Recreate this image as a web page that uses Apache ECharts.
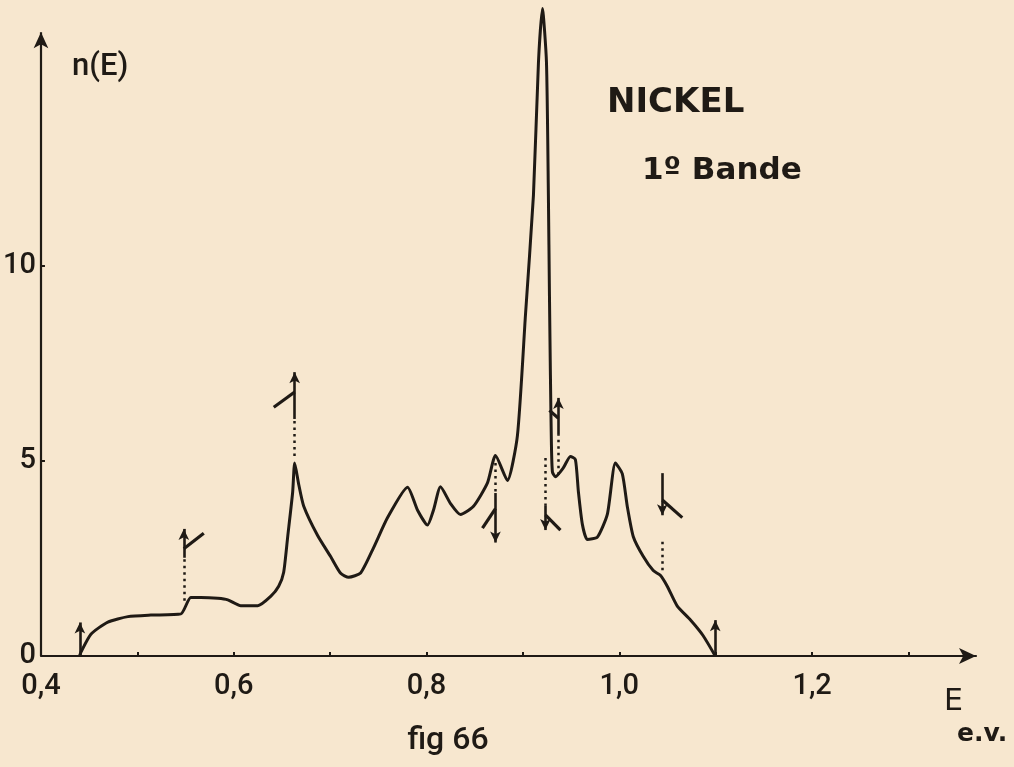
<!DOCTYPE html>
<html>
<head>
<meta charset="utf-8">
<script src="https://cdn.jsdelivr.net/npm/echarts@6/dist/echarts.min.js"></script>
<style>
html,body{margin:0;padding:0;background:#f7e7cf;}
#chart{width:1014px;height:767px;}
</style>
</head>
<body>
<div id="chart"></div>
<script>
// ---- data ----
const energy = [0.4400,0.4415,0.4518,0.4694,0.4902,0.5140,0.5451,0.5554,0.5658,0.5834,0.5938,0.6073,0.6249,0.6383,0.6466,0.6518,0.6560,0.6611,0.6632,0.6674,0.6725,0.6870,0.7005,0.7109,0.7192,0.7316,0.7451,0.7596,0.7803,0.7907,0.8010,0.8073,0.8145,0.8249,0.8352,0.8487,0.8632,0.8715,0.8839,0.8943,0.9026,0.9109,0.9161,0.9202,0.9244,0.9264,0.9275,0.9285,0.9295,0.9306,0.9337,0.9420,0.9492,0.9544,0.9575,0.9617,0.9668,0.9772,0.9876,0.9959,1.0031,1.0083,1.0145,1.0249,1.0352,1.0425,1.0497,1.0601,1.0736,1.0870,1.0995];
const density = [0.00,0.10,0.56,0.87,1.01,1.05,1.08,1.50,1.50,1.48,1.44,1.29,1.29,1.53,1.79,2.15,3.07,4.20,4.95,4.40,3.85,3.09,2.55,2.12,2.02,2.13,2.78,3.55,4.33,3.74,3.36,3.75,4.34,3.91,3.63,3.84,4.44,5.14,4.50,5.66,8.74,11.82,15.23,16.61,15.23,11.82,9.26,7.21,5.49,4.72,4.60,4.83,5.12,5.04,4.22,3.37,2.99,3.05,3.64,4.95,4.67,3.83,3.06,2.55,2.19,2.07,1.79,1.28,0.93,0.52,0.00];

// critical-point markers (energy of each marker)
const markEnergy = [0.4404,0.5482,0.6632,0.8715,0.9233,0.9368,1.0446,1.0995];
const arrowFrom  = [0.00,2.52,6.08,4.18,3.87,5.67,4.69,0.00];
const arrowTo    = [0.86,3.26,7.28,2.91,3.23,6.62,3.61,0.92];
const dotFrom    = [null,1.42,5.13,4.95,5.08,4.65,2.20,null];
const dotTo      = [null,2.52,6.08,4.18,3.87,5.67,2.97,null];
const hookStart  = [null,2.75,6.77,3.78,3.62,6.10,4.00,null];
const hookEndE   = [null,0.5689,0.6415,0.8580,0.9389,0.9275,1.0653,null];
const hookEndN   = [null,3.15,6.38,3.28,3.23,6.30,3.55,null];
const hookBend   = [null,0.35,-0.35,0.3,-0.3,0.3,-0.3,null];

const xTicks = [0.4,0.6,0.8,1.0,1.2];
const xTickLabels = ['0,4','0,6','0,8','1,0','1,2'];
const xTickMarks = [0.5,0.6,0.7,0.8,0.9,1.0,1.1,1.2,1.3];
const yTicks = [0,5,10];
const yAxisTop = 16.0;

// ---- build ----
const ink = '#1f1a15';
const curve = energy.map((e,i)=>[e,density[i]]);

const marks = [];
// y axis line with arrow
marks.push([{coord:[0.4,0],symbol:'none'},{coord:[0.4,yAxisTop],symbol:'arrow',symbolSize:[11,16],lineStyle:{type:'solid',width:2.2,color:ink}}]);
markEnergy.forEach((e,i)=>{
  marks.push([{coord:[e,arrowFrom[i]],symbol:'none'},{coord:[e,arrowTo[i]],symbol:'arrow',symbolSize:[8,11],lineStyle:{type:'solid',width:2.6,color:ink}}]);
  if(dotFrom[i]!==null){
    marks.push([{coord:[e,dotFrom[i]],symbol:'none'},{coord:[e,dotTo[i]],symbol:'none',lineStyle:{type:[2.5,4],width:2.5,color:ink}}]);
  }
  if(hookStart[i]!==null){
    marks.push([{coord:[e,hookStart[i]],symbol:'none'},{coord:[hookEndE[i],hookEndN[i]],symbol:'none',lineStyle:{type:'solid',width:3.2,color:ink,curveness:hookBend[i]}}]);
  }
});

const chart = echarts.init(document.getElementById('chart'));
chart.setOption({
  backgroundColor:'#f7e7cf',
  animation:false,
  grid:{left:40,right:38,top:1,bottom:111},
  xAxis:{
    type:'value',min:0.4,max:1.37,
    axisLine:{show:true,lineStyle:{color:ink,width:2.2},symbol:['none','arrow'],symbolSize:[12,17]},
    axisTick:{show:true,inside:true,length:4,customValues:xTickMarks,lineStyle:{color:ink,width:2}},
    axisLabel:{customValues:xTicks,margin:16,color:ink,fontFamily:'Roboto',fontWeight:500,fontSize:29,
      formatter:(v)=>{const k=xTicks.findIndex(t=>Math.abs(t-v)<1e-6);return k>=0?xTickLabels[k]:'';}},
    splitLine:{show:false}
  },
  yAxis:{
    type:'value',min:0,max:16.8,
    axisLine:{show:false},
    axisTick:{show:true,inside:true,length:4,customValues:[5,10],lineStyle:{color:ink,width:2}},
    axisLabel:{customValues:yTicks,margin:5,color:ink,fontFamily:'Roboto',fontWeight:500,fontSize:29},
    splitLine:{show:false}
  },
  graphic:[
    {type:'text',x:72,y:67,style:{text:'n(E)',font:'500 31px Roboto',fill:ink,verticalAlign:'middle'}},
    {type:'text',x:607,y:103,style:{text:'NICKEL',font:'bold 34px "DejaVu Sans"',fill:ink,verticalAlign:'middle'}},
    {type:'text',x:642,y:171,style:{text:'1º Bande',font:'bold 31px "DejaVu Sans"',fill:ink,verticalAlign:'middle'}},
    {type:'text',x:448,y:741,style:{text:'fig 66',font:'500 32px Roboto',fill:ink,align:'center',verticalAlign:'middle'}},
    {type:'text',x:944,y:702,style:{text:'E',font:'30px "DejaVu Sans"',fill:ink,verticalAlign:'middle'}},
    {type:'text',x:957,y:734,style:{text:'e.v.',font:'bold 25px "DejaVu Sans"',fill:ink,verticalAlign:'middle'}}
  ],
  series:[{
    type:'line',
    data:curve,
    smooth:0.2,
    symbol:'none',
    lineStyle:{color:ink,width:3},
    markLine:{
      silent:true,
      symbol:['none','none'],
      label:{show:false},
      lineStyle:{color:ink,width:2},
      data:marks
    }
  }]
});
</script>
</body>
</html>
